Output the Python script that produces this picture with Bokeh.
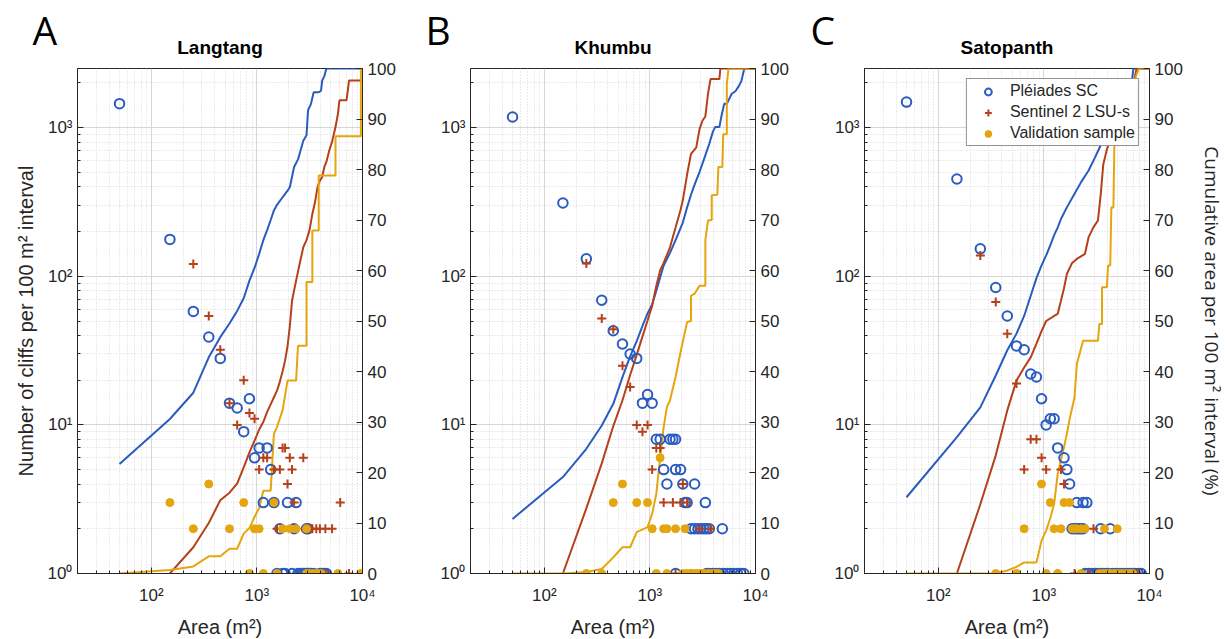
from bokeh.plotting import figure
from bokeh.models import (Range1d, LinearAxis, LinearScale, FixedTicker, CustomJSTickFormatter,
                          Legend, LegendItem)
from bokeh.core.properties import value
from bokeh.layouts import row, column
from bokeh.embed import file_html
from bokeh.resources import INLINE

BLUE = "#2a5bbf"
RED = "#b5401a"
YEL = "#e5a50d"
DARK = "#262626"

SITES = ["Langtang", "Khumbu", "Satopanth"]
LETTERS = ["A", "B", "C"]
LEGEND_LABELS = ["Pléiades SC", "Sentinel 2 LSU-s", "Validation sample"]
LEFT_LABEL = "Number of cliffs per 100 m² interval"
RIGHT_LABEL = "Cumulative area per 100 m² interval (%)"
X_LABEL = "Area (m²)"
PCT_TICKS = [0, 10, 20, 30, 40, 50, 60, 70, 80, 90, 100]
X_TICKS = [100, 1000, 10000]
Y_TICKS = [1, 10, 100, 1000]

# ---------------- Langtang ----------------
LT_PLE_X = [50, 150, 250, 350, 450, 550, 650, 750, 850, 950, 1050, 1250, 1350,
            1150, 1450, 1950, 2350,
            1650, 2250, 2950, 3050,
            1550, 1750, 1850, 2150, 2450, 2550, 2650, 2750, 2850, 2950, 3050, 3150, 3250, 3450, 3950, 4150, 4350, 4550]
LT_PLE_N = [1450, 177, 58, 39, 28, 14, 13, 9, 15, 6, 7, 7, 5,
            3, 3, 3, 3,
            2, 2, 2, 2,
            1, 1, 1, 1, 1, 1, 1, 1, 1, 1, 1, 1, 1, 1, 1, 1, 1, 1]
LT_SEN_X = [250, 350, 450, 550, 650, 750, 850, 950,
            1750, 1850,
            1150, 1250, 2050, 2750,
            1050, 1450, 1650, 2150,
            1950,
            2250, 6150,
            1550, 2850, 3150, 3350, 3650, 3950, 4450, 5150,
            4550, 7450]
LT_SEN_N = [121, 54, 32, 14, 10, 20, 12, 11,
            7, 7,
            6, 6, 6, 6,
            5, 5, 5, 5,
            4,
            3, 3,
            2, 2, 2, 2, 2, 2, 2, 2,
            1, 1]
LT_VAL_X = [150, 350, 250, 550, 750, 950, 1050, 1450, 1750, 2050, 2350, 2950,
            850, 1150, 1550, 2950, 3150, 3450, 3750, 4050, 5850, 9550]
LT_VAL_N = [3, 4, 2, 2, 3, 2, 2, 3, 2, 2, 2, 2,
            1, 1, 1, 1, 1, 1, 1, 1, 1, 1]
LT_PLE_CUM_X = [50, 150, 250, 350, 450, 550, 650, 750, 850, 950,
                1050, 1150, 1250, 1350, 1450, 1550, 1750, 1950, 2050, 2250,
                2450, 2750, 2950, 3050, 3250, 3450, 3850, 4050, 4150, 4350,
                4550, 10000]
LT_PLE_CUM = [21.7, 30.6, 35.8, 42.8, 46.8, 49.5, 52, 54.5, 58, 60.5,
              63.3, 66, 68, 70, 71.9, 73, 74.5, 75.8, 76.5, 80.5,
              82, 85.7, 86.8, 91.7, 93, 95.3, 95.3, 95.6, 97.6, 98.5,
              100, 100]
LT_SEN_CUM_X = [150, 250, 350, 450, 550, 650, 750, 850, 950, 1050,
                1150, 1250, 1350, 1450, 1550, 1650, 1750, 1850, 1950, 2050,
                2150, 2350, 2550, 2750, 2950, 3150, 3350, 3550, 3750, 3950,
                4150, 4350, 4550, 4850, 5150, 5350, 5550, 5850, 6050, 7050,
                7250, 7450, 10000]
LT_SEN_CUM = [0, 5.2, 10, 14.5, 16, 17.8, 21, 24, 26.3, 28.5,
              30, 32, 33.5, 34.9, 36.2, 38, 40, 42.2, 45, 49,
              54, 58, 61.5, 64.6, 66, 68, 71.2, 73.5, 76.5, 77.8,
              78.5, 80.5, 81.5, 83.8, 85.5, 87, 88.4, 91, 93.7, 93.7,
              95.5, 97.6, 97.6]
LT_VAL_CUM_X = [50, 150, 250, 350, 450, 550, 650, 750, 850, 950,
                1050, 1150, 1350, 1450, 1550, 1750, 1950, 2350, 2450, 2950,
                2950, 3350, 3350, 3850, 3850, 5550, 5550, 9650, 9650, 10000]
LT_VAL_CUM = [0, 0.7, 1.4, 3.4, 3.4, 4.9, 4.9, 7.9, 9, 11.2,
              13, 16.4, 16.4, 27.7, 29, 32.3, 38.2, 38.2, 45.1, 45.1,
              57.7, 57.7, 67.9, 67.9, 78.8, 78.8, 86.6, 86.6, 100, 100]

# ---------------- Khumbu ----------------
KH_PLE_X = [50, 150, 250, 350, 450, 550, 650, 750, 850, 950, 1050,
            1150, 1250, 1550, 1650, 1750,
            1350, 1750, 1950,
            1450, 2050, 2650,
            2150, 2250, 3350,
            2450, 2650, 2850, 3050, 3250, 3450, 3650, 4850,
            1750, 3450, 3650, 3950, 4250, 4550, 4950, 5350, 5750, 6250, 6750, 7250, 7750]
KH_PLE_N = [1180, 311, 131, 69, 43, 35, 30, 28, 14, 16, 14,
            8, 8, 8, 8, 8,
            5, 5, 5,
            4, 4, 4,
            3, 3, 3,
            2, 2, 2, 2, 2, 2, 2, 2,
            1, 1, 1, 1, 1, 1, 1, 1, 1, 1, 1, 1, 1]
KH_SEN_X = [250, 350, 450, 550, 650, 750, 850, 950,
            1150, 1250,
            1050,
            2050,
            1350, 1650, 1950, 2250,
            2950, 3750,
            1750, 2450]
KH_SEN_N = [122, 52, 44, 25, 18, 10, 9, 10,
            7, 7,
            5,
            4,
            3, 3, 3, 3,
            2, 2,
            1, 1]
KH_VAL_X = [550, 1250,
            450, 750, 950,
            1050, 1350, 1450, 1750, 2150,
            250, 350, 1150, 1450, 2050, 2250, 2450, 2650, 2850, 3050, 3250, 3550, 3850, 4150, 4450]
KH_VAL_N = [4, 6,
            3, 3, 3,
            2, 2, 2, 2, 2,
            1, 1, 1, 1, 1, 1, 1, 1, 1, 1, 1, 1, 1, 1, 1]
KH_PLE_CUM_X = [50, 150, 250, 350, 450, 550, 650, 750, 850, 950,
                1050, 1150, 1350, 1550, 1750, 2050, 2250, 2450, 2650, 2950,
                3250, 3650, 3950, 4150, 4550, 4750, 5050, 5350, 5950, 6450,
                6850, 7350, 7750, 7950, 10000]
KH_PLE_CUM = [10.8, 19.1, 24.7, 29.3, 33.6, 38.9, 43, 46, 49, 51.5,
              53.3, 56, 61, 63.5, 66, 69.5, 72.5, 75, 77, 79.5,
              82, 85.1, 87.5, 88.4, 88.4, 90.5, 93, 93, 95, 95.5,
              96.3, 97.5, 99.6, 100, 100]
KH_SEN_CUM_X = [150, 250, 350, 450, 550, 650, 750, 850, 950, 1050,
                1150, 1250, 1350, 1550, 1750, 1950, 2050, 2250, 2450, 2750,
                2950, 3150, 3350, 3550, 3750, 4550, 4650, 10000]
KH_SEN_CUM = [0, 12.9, 21.8, 29.2, 34.3, 39.3, 43.3, 46.9, 50.1, 53,
              57, 60, 61.5, 64.6, 68.5, 72, 73.9, 79, 83.1, 84.4,
              88, 89.7, 90.5, 95, 97.9, 97.9, 100, 100]
KH_VAL_CUM_X = [50, 150, 250, 350, 450, 550, 650, 750, 950, 1050,
                1150, 1250, 1350, 1450, 1550, 1750, 1950, 2250, 2450, 2450,
                2650, 2950, 3350, 3350, 3550, 3850, 3850, 4350, 4450, 4850,
                4950, 5350, 5350, 5550, 10000]
KH_VAL_CUM = [0, 0, 0.3, 0.9, 3.2, 5.2, 5.2, 8.2, 9.2, 11.8,
              15.8, 23, 29, 33, 34.3, 38.9, 43.8, 49.8, 50, 55,
              55.4, 57, 57, 66, 69.9, 70, 74.9, 75, 80.5, 80.5,
              87, 87, 97, 100, 100]

# ---------------- Satopanth ----------------
SP_PLE_X = [50, 150, 250, 350, 450, 550, 650, 750, 850, 950, 1050, 1150, 1250, 1350, 1550, 1650, 1750,
            2050, 2350, 2550,
            1850, 1950, 2050, 2150, 2250, 2350, 3450, 4250,
            2450, 2650, 2850, 3050, 3250, 3450, 3650, 3850, 4050, 4450, 4850, 5250, 5650, 6050, 6450, 6850,
            7350, 7850, 8350]
SP_PLE_N = [1486, 451, 153, 84, 54, 34, 32, 22, 21, 15, 10, 11, 11, 7, 6, 5, 4,
            3, 3, 3,
            2, 2, 2, 2, 2, 2, 2, 2,
            1, 1, 1, 1, 1, 1, 1, 1, 1, 1, 1, 1, 1, 1, 1, 1,
            1, 1, 1]
SP_SEN_X = [250, 350, 450, 550, 750, 850, 950,
            650, 1050, 1450,
            1550,
            2950,
            1350, 1950, 2650, 7750]
SP_SEN_N = [138, 67, 41, 19, 8, 8, 6,
            5, 5, 5,
            4,
            2,
            1, 1, 1, 1]
SP_VAL_X = [950,
            1150, 1550, 1750,
            650, 1250, 1450, 1850, 1950, 2050, 2250, 2450, 3750, 4950,
            350, 550, 1050, 1350, 2250, 3350, 3650, 3950, 4250, 4650, 5050, 5450, 5950, 6450, 6950]
SP_VAL_N = [4,
            3, 3, 3,
            2, 2, 2, 2, 2, 2, 2, 2, 2, 2,
            1, 1, 1, 1, 1, 1, 1, 1, 1, 1, 1, 1, 1, 1, 1]
SP_PLE_CUM_X = [50, 150, 250, 350, 450, 550, 650, 750, 850, 950,
                1050, 1150, 1250, 1350, 1450, 1650, 1950, 2250, 2650, 3050,
                3450, 3950, 4450, 5050, 5650, 6250, 6850, 7050, 10000]
SP_PLE_CUM = [15.1, 27, 32.9, 39.2, 44.2, 47.5, 51, 55, 58.5, 61,
              63, 65, 67, 68.5, 70.2, 72.5, 75.2, 77.5, 79.8, 82.4,
              84.8, 87, 89, 91.5, 93.5, 95.5, 98, 100, 100]
SP_SEN_CUM_X = [150, 250, 350, 450, 550, 650, 750, 850, 950, 1050,
                1150, 1250, 1350, 1450, 1550, 1650, 1850, 2050, 2450, 2650,
                2950, 3250, 3450, 3650, 3950, 4350, 5050, 6050, 7050, 7550,
                10000]
SP_SEN_CUM = [0, 13.7, 23.4, 32.3, 38.2, 40.8, 42.8, 45.5, 48, 50,
              50.5, 51, 51.4, 54, 56.5, 59.3, 61.5, 62.3, 63.3, 66.6,
              68.6, 69.9, 75, 81, 84, 86.5, 90, 94, 97, 100,
              100]
SP_VAL_CUM_X = [50, 350, 450, 550, 650, 850, 950, 1050, 1150, 1250,
                1350, 1450, 1550, 1650, 1750, 1950, 2050, 2350, 3250, 3350,
                3550, 3550, 3950, 4050, 4250, 4350, 4550, 4650, 5450, 6450,
                7950, 10000]
SP_VAL_CUM = [0, 0, 0.6, 1.3, 2.2, 2.2, 6.5, 8.5, 11, 13.8,
              19.7, 22.5, 25, 27.7, 30.5, 34.9, 41.5, 46.1, 46.1, 49.4,
              49.4, 56.7, 56.7, 61, 61, 72.5, 72.5, 85, 90, 95,
              100, 100]

PANELS = [
    (LT_PLE_X, LT_PLE_N, LT_SEN_X, LT_SEN_N, LT_VAL_X, LT_VAL_N,
     LT_PLE_CUM_X, LT_PLE_CUM, LT_SEN_CUM_X, LT_SEN_CUM, LT_VAL_CUM_X, LT_VAL_CUM),
    (KH_PLE_X, KH_PLE_N, KH_SEN_X, KH_SEN_N, KH_VAL_X, KH_VAL_N,
     KH_PLE_CUM_X, KH_PLE_CUM, KH_SEN_CUM_X, KH_SEN_CUM, KH_VAL_CUM_X, KH_VAL_CUM),
    (SP_PLE_X, SP_PLE_N, SP_SEN_X, SP_SEN_N, SP_VAL_X, SP_VAL_N,
     SP_PLE_CUM_X, SP_PLE_CUM, SP_SEN_CUM_X, SP_SEN_CUM, SP_VAL_CUM_X, SP_VAL_CUM),
]

X_MINOR = [20, 30, 40, 50, 60, 70, 80, 90, 200, 300, 400, 500, 600, 700, 800, 900,
           2000, 3000, 4000, 5000, 6000, 7000, 8000, 9000]
Y_MINOR = [2, 3, 4, 5, 6, 7, 8, 9, 20, 30, 40, 50, 60, 70, 80, 90,
           200, 300, 400, 500, 600, 700, 800, 900, 2000]

SUP_JS = """
const sup = {'-':'\u207b','0':'\u2070','1':'\u00b9','2':'\u00b2','3':'\u00b3','4':'\u2074',
             '5':'\u2075','6':'\u2076','7':'\u2077','8':'\u2078','9':'\u2079'};
const e = Math.round(Math.log10(tick));
return '10' + String(e).split('').map(c => sup[c]).join('');
"""

FONT = "Liberation Sans"

# layout geometry (pixels)
FRAME_W = 285
FRAME_H = 505
BORDER_L = [77, 69, 70]
BORDER_R = [39, 39, 69]
BORDER_T = 10
BORDER_B = 63
HEAD_H = 58
LETTER_LEFT = [32, 24, 16]
LETTER_MID = 29.0       # vertical centre, from the bottom of the header strip
TITLE_MID = 11.5        # vertical centre, from the bottom of the header strip


def style_axis(ax):
    ax.axis_line_color = DARK
    ax.major_tick_line_color = DARK
    ax.minor_tick_line_color = DARK
    ax.major_tick_in = 6
    ax.major_tick_out = 0
    ax.minor_tick_in = 3
    ax.minor_tick_out = 0
    ax.major_label_text_font = FONT
    ax.major_label_text_font_size = "17px"
    ax.major_label_text_color = DARK
    ax.axis_label_text_font = FONT
    ax.axis_label_text_font_size = "20px"
    ax.axis_label_text_font_style = "normal"
    ax.axis_label_text_color = DARK


def make_header(i):
    w = BORDER_L[i] + FRAME_W + BORDER_R[i]
    h = figure(width=w, height=HEAD_H, x_range=Range1d(0, w), y_range=Range1d(0, HEAD_H),
               title=None, min_border=0, x_axis_location=None, y_axis_location=None,
               output_backend="svg", toolbar_location=None,
               background_fill_color="white", border_fill_color="white")
    h.outline_line_color = None
    h.xgrid.visible = False
    h.ygrid.visible = False
    h.text(x=[LETTER_LEFT[i]], y=[LETTER_MID], text=[LETTERS[i]],
           text_font=value("Open Sans"), text_font_size="39px",
           text_color="black", text_baseline="middle", text_align="left")
    h.text(x=[BORDER_L[i] + FRAME_W / 2], y=[TITLE_MID], text=[SITES[i]],
           text_font=value(FONT), text_font_size="19px", text_font_style="bold",
           text_color="black", text_baseline="middle", text_align="center")
    return h


def make_panel(i):
    (px, pn, sx, sn, vx, vn, pcx, pc, scx, sc, vcx, vc) = PANELS[i]
    last = (i == 2)
    p = figure(x_axis_type="log", y_axis_type="log",
               x_range=Range1d(20, 10000), y_range=Range1d(1, 2500),
               frame_width=FRAME_W, frame_height=FRAME_H, title=None,
               min_border_left=BORDER_L[i], min_border_right=BORDER_R[i],
               min_border_top=BORDER_T, min_border_bottom=BORDER_B,
               output_backend="svg", toolbar_location=None,
               background_fill_color="white", border_fill_color="white")
    p.outline_line_color = DARK
    p.outline_line_width = 1

    xt = FixedTicker(ticks=X_TICKS, minor_ticks=X_MINOR)
    yt = FixedTicker(ticks=Y_TICKS, minor_ticks=Y_MINOR)
    xax = p.xaxis[0]
    yax = p.yaxis[0]
    xax.ticker = xt
    yax.ticker = yt
    p.xgrid[0].ticker = xt
    p.ygrid[0].ticker = yt
    xax.formatter = CustomJSTickFormatter(code=SUP_JS)
    yax.formatter = CustomJSTickFormatter(code=SUP_JS)
    style_axis(xax)
    style_axis(yax)
    xax.axis_label = X_LABEL
    xax.major_label_standoff = 12
    xax.axis_label_standoff = 8
    yax.major_label_standoff = 5
    if i == 0:
        yax.axis_label = LEFT_LABEL
        yax.axis_label_standoff = 8

    for g in (p.xgrid[0], p.ygrid[0]):
        g.grid_line_color = "#d6d6d6"
        g.grid_line_width = 1
        g.minor_grid_line_color = "#d6d6d6"
        g.minor_grid_line_dash = "1 2"
        g.minor_grid_line_width = 1

    p.extra_y_ranges = {"pct": Range1d(0, 100)}
    p.extra_y_scales = {"pct": LinearScale()}
    rax = LinearAxis(y_range_name="pct", ticker=FixedTicker(ticks=PCT_TICKS))
    style_axis(rax)
    rax.minor_tick_line_color = None
    rax.major_label_standoff = 5
    if last:
        rax.axis_label = RIGHT_LABEL
        rax.axis_label_text_font = "Open Sans"
        rax.axis_label_text_font_size = "19px"
        rax.axis_label_standoff = 13
    p.add_layout(rax, "right")

    # cumulative area curves (right axis)
    p.line(pcx, pc, y_range_name="pct", line_color=BLUE, line_width=2)
    p.line(scx, sc, y_range_name="pct", line_color=RED, line_width=2)
    p.line(vcx, vc, y_range_name="pct", line_color=YEL, line_width=2)

    # counts per interval (left axis)
    r1 = p.scatter(px, pn, marker="circle", size=9.5, fill_color=None,
                   line_color=BLUE, line_width=2)
    r2 = p.scatter(sx, sn, marker="cross", size=9, line_color=RED, line_width=2)
    r3 = p.scatter(vx, vn, marker="circle", size=8, fill_color=YEL, line_color=YEL)

    if last:
        leg = Legend(items=[LegendItem(label=LEGEND_LABELS[0], renderers=[r1]),
                            LegendItem(label=LEGEND_LABELS[1], renderers=[r2]),
                            LegendItem(label=LEGEND_LABELS[2], renderers=[r3])],
                     location="top_right", margin=10, padding=3, spacing=3,
                     glyph_width=36, glyph_height=17, label_height=17,
                     label_standoff=4, label_text_font=FONT,
                     label_text_font_size="16px", label_text_color=DARK,
                     border_line_color=DARK, border_line_width=1,
                     background_fill_color="white", background_fill_alpha=1)
        p.add_layout(leg)
    return p


headers = [make_header(i) for i in range(3)]
panels = [make_panel(i) for i in range(3)]
layout = column(row(*headers), row(*panels))
open("out.html", "w").write(file_html(layout, INLINE))
